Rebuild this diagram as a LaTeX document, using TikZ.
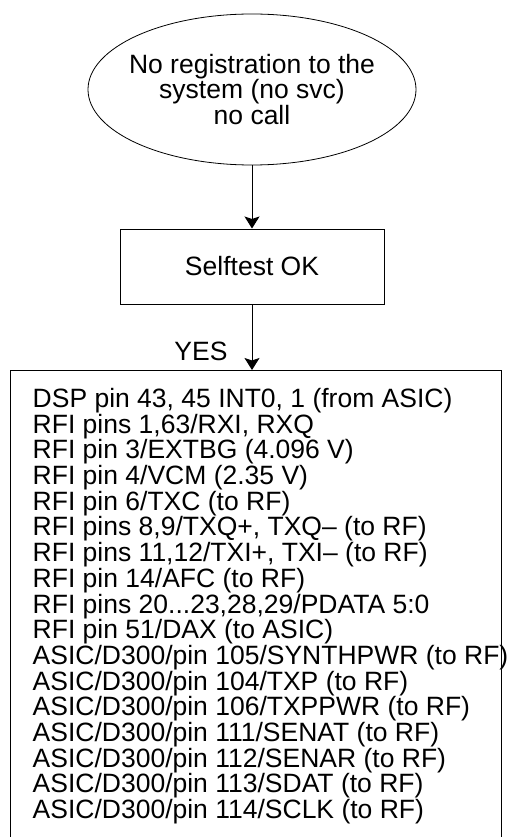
\documentclass[tikz,border=0pt]{standalone}
\usepackage{fontspec}
\setmainfont{Liberation Sans}
\usetikzlibrary{shapes.geometric, arrows.meta, positioning}

\begin{document}
\begin{tikzpicture}[
    x=1pt, y=-1pt,
    every node/.style={font=\fontsize{26.5}{25.7}\selectfont},
    startnode/.style={ellipse, draw, line width=0.8pt, minimum width=328pt, minimum height=151pt, inner sep=0pt},
    box/.style={rectangle, draw, line width=1pt, minimum width=264pt, minimum height=75pt, align=center},
    listbox/.style={rectangle, draw, line width=1pt, minimum width=491pt, minimum height=490pt, anchor=north},
    pinlist/.style={align=left, inner sep=0pt, anchor=north west},
    arrow/.style={-{Stealth[length=12pt, width=15pt, inset=2.5pt]}, line width=1pt},
    yeslabel/.style={inner sep=0pt}
]
\useasboundingbox (0,0) rectangle (511,837);

% Start state
\node[startnode] (noreg) at (252, 89.5) {};
\node[align=center, inner sep=0pt] (noregtext) at (noreg) {No registration to the\\system (no svc)\\no call};

% Selftest
\node[box] (selftest) at (252, 266.5) {Selftest OK};
\draw[arrow] (noreg) -- (selftest);

% Pins to check
\node[listbox] (pinbox) at (255.5, 370) {};
\node[pinlist] (pins) at ([xshift=23pt, yshift=-18pt]pinbox.north west) {DSP pin 43, 45 INT0, 1 (from ASIC)\\
RFI pins 1,63/RXI, RXQ\\
RFI pin 3/EXTBG (4.096 V)\\
RFI pin 4/VCM (2.35 V)\\
RFI pin 6/TXC (to RF)\\
RFI pins 8,9/TXQ+, TXQ– (to RF)\\
RFI pins 11,12/TXI+, TXI– (to RF)\\
RFI pin 14/AFC (to RF)\\
RFI pins 20...23,28,29/PDATA 5:0\\
RFI pin 51/DAX (to ASIC)\\
ASIC/D300/pin 105/SYNTHPWR (to RF)\\
ASIC/D300/pin 104/TXP (to RF)\\
ASIC/D300/pin 106/TXPPWR (to RF)\\
ASIC/D300/pin 111/SENAT (to RF)\\
ASIC/D300/pin 112/SENAR (to RF)\\
ASIC/D300/pin 113/SDAT (to RF)\\
ASIC/D300/pin 114/SCLK (to RF)};
\draw[arrow] (selftest.south) -- node[yeslabel, pos=0.72, left=24pt] {YES} (selftest.south |- pinbox.north);

\end{tikzpicture}
\end{document}
